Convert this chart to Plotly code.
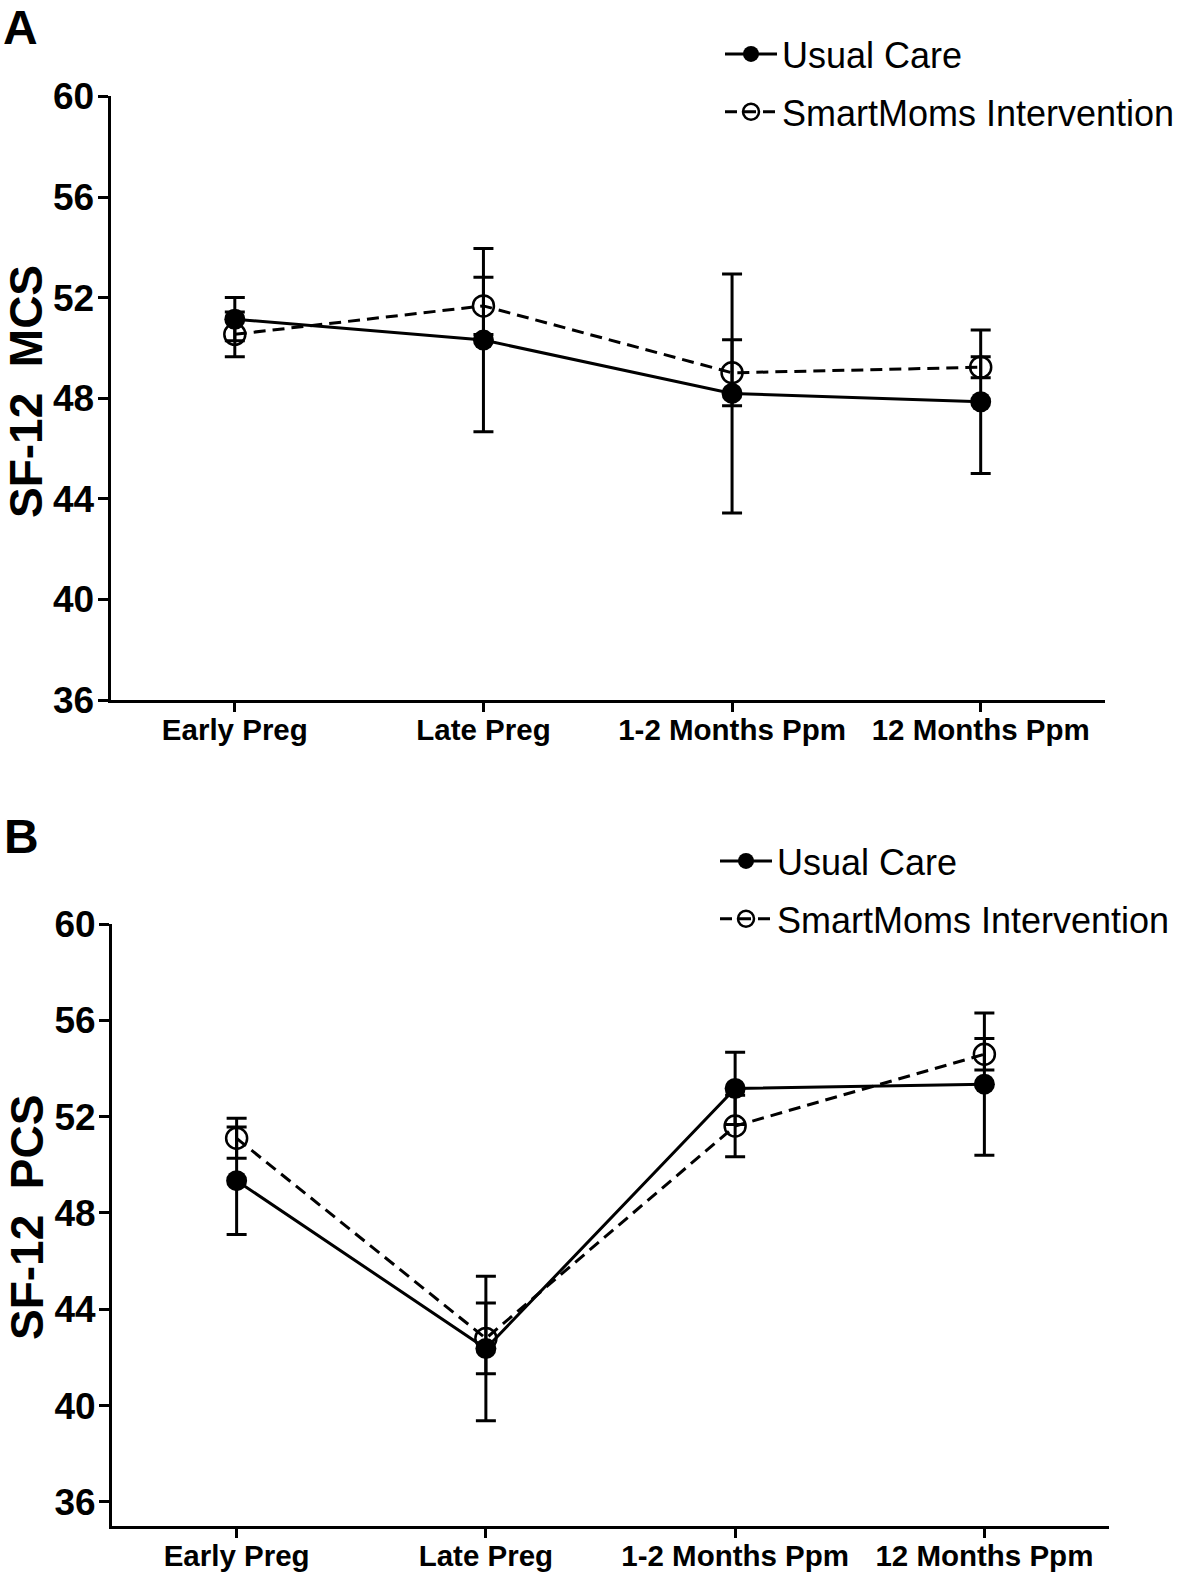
import plotly.graph_objects as go

categories = ["Early Preg", "Late Preg", "1-2 Months Ppm", "12 Months Ppm"]

mcs_usual = [51.14, 50.31, 48.19, 47.86]
mcs_usual_err = [0.86, 3.64, 4.75, 2.85]
mcs_smart = [50.54, 51.67, 49.01, 49.23]
mcs_smart_err = [0.89, 1.14, 1.31, 0.42]

pcs_usual = [49.34, 42.37, 53.17, 53.35]
pcs_usual_err = [2.23, 3.00, 1.50, 2.95]
pcs_smart = [51.10, 42.79, 51.61, 54.59]
pcs_smart_err = [0.83, 1.47, 1.28, 0.65]

y_ticks = [36, 40, 44, 48, 52, 56, 60]

W, H = 1181, 1575
FONT = "Liberation Sans, Arial, sans-serif"


def px_x(p):
    return p / W


def px_y(p):
    return 1 - p / H


fig = go.Figure()


def add_pair(usual, usual_err, smart, smart_err, xa, ya, legend):
    fig.add_trace(go.Scatter(
        x=categories, y=usual, name="Usual Care", mode="lines+markers",
        xaxis=xa, yaxis=ya, legend=legend, legendgroup="u" + legend,
        line=dict(color="black", width=3),
        marker=dict(symbol="circle", size=21, color="black"),
        error_y=dict(type="data", array=usual_err, visible=True,
                     color="black", thickness=3, width=10),
    ))
    fig.add_trace(go.Scatter(
        x=categories, y=smart, name="SmartMoms Intervention", mode="lines+markers",
        xaxis=xa, yaxis=ya, legend=legend, legendgroup="s" + legend,
        line=dict(color="black", width=3, dash="12px,7px"),
        marker=dict(symbol="circle-open", size=21, color="black",
                    line=dict(width=2.5, color="black")),
        error_y=dict(type="data", array=smart_err, visible=True,
                     color="black", thickness=3, width=10),
    ))


add_pair(mcs_usual, mcs_usual_err, mcs_smart, mcs_smart_err, "x", "y", "legend")
add_pair(pcs_usual, pcs_usual_err, pcs_smart, pcs_smart_err, "x2", "y2", "legend2")

xaxis_common = dict(
    showline=True, linewidth=3, linecolor="black", ticks="outside",
    ticklen=9, tickwidth=3, tickcolor="black", showgrid=False, zeroline=False,
    range=[-0.5, 3.5], type="category", automargin=False, ticklabelstandoff=-7,
    tickfont=dict(family=FONT, size=29.5, color="black", weight="bold"),
)
yaxis_common = dict(
    showline=True, linewidth=3, linecolor="black", ticks="outside",
    ticklen=10, tickwidth=3, tickcolor="black", showgrid=False, zeroline=False,
    tickvals=y_ticks, automargin=False, ticklabelstandoff=-4,
    tickfont=dict(family=FONT, size=37, color="black", weight="bold"),
)

legend_common = dict(
    xanchor="left", yanchor="top",
    font=dict(family=FONT, size=36, color="black"),
    itemwidth=52, tracegroupgap=8, traceorder="grouped",
    bgcolor="rgba(0,0,0,0)", borderwidth=0,
)

fig.update_layout(
    width=W, height=H, autosize=False,
    margin=dict(l=0, r=0, t=0, b=0, pad=0),
    paper_bgcolor="white", plot_bgcolor="white",
    showlegend=True,
    xaxis=dict(domain=[px_x(110.5), px_x(1105)], anchor="y", **xaxis_common),
    yaxis=dict(domain=[px_y(700), px_y(96.4)], anchor="x", range=[36, 60], **yaxis_common),
    xaxis2=dict(domain=[px_x(112), px_x(1109)], anchor="y2", **xaxis_common),
    yaxis2=dict(domain=[px_y(1526), px_y(924)], anchor="x2", range=[35, 60], **yaxis_common),
    legend=dict(x=px_x(720), y=px_y(24), **legend_common),
    legend2=dict(x=px_x(715), y=px_y(831), **legend_common),
    annotations=[
        dict(text="<b>A</b>", x=px_x(2), y=px_y(0), xref="paper", yref="paper",
             xanchor="left", yanchor="top", showarrow=False, borderpad=0,
             font=dict(family=FONT, size=48, color="black")),
        dict(text="<b>B</b>", x=px_x(2), y=px_y(808), xref="paper", yref="paper",
             xanchor="left", yanchor="top", showarrow=False,
             font=dict(family=FONT, size=48, color="black")),
        dict(text="<b>SF-12\u00a0\u00a0MCS</b>", x=px_x(26), y=px_y(392),
             xref="paper", yref="paper", xanchor="center", yanchor="middle",
             textangle=-90, showarrow=False, borderpad=0,
             font=dict(family=FONT, size=46, color="black")),
        dict(text="<b>SF-12\u00a0\u00a0PCS</b>", x=px_x(27), y=px_y(1218),
             xref="paper", yref="paper", xanchor="center", yanchor="middle",
             textangle=-90, showarrow=False, borderpad=0,
             font=dict(family=FONT, size=46, color="black")),
    ],
)

fig.write_html("out.html", config={"responsive": False, "displayModeBar": False},
               post_script="document.body.style.margin='0';")
